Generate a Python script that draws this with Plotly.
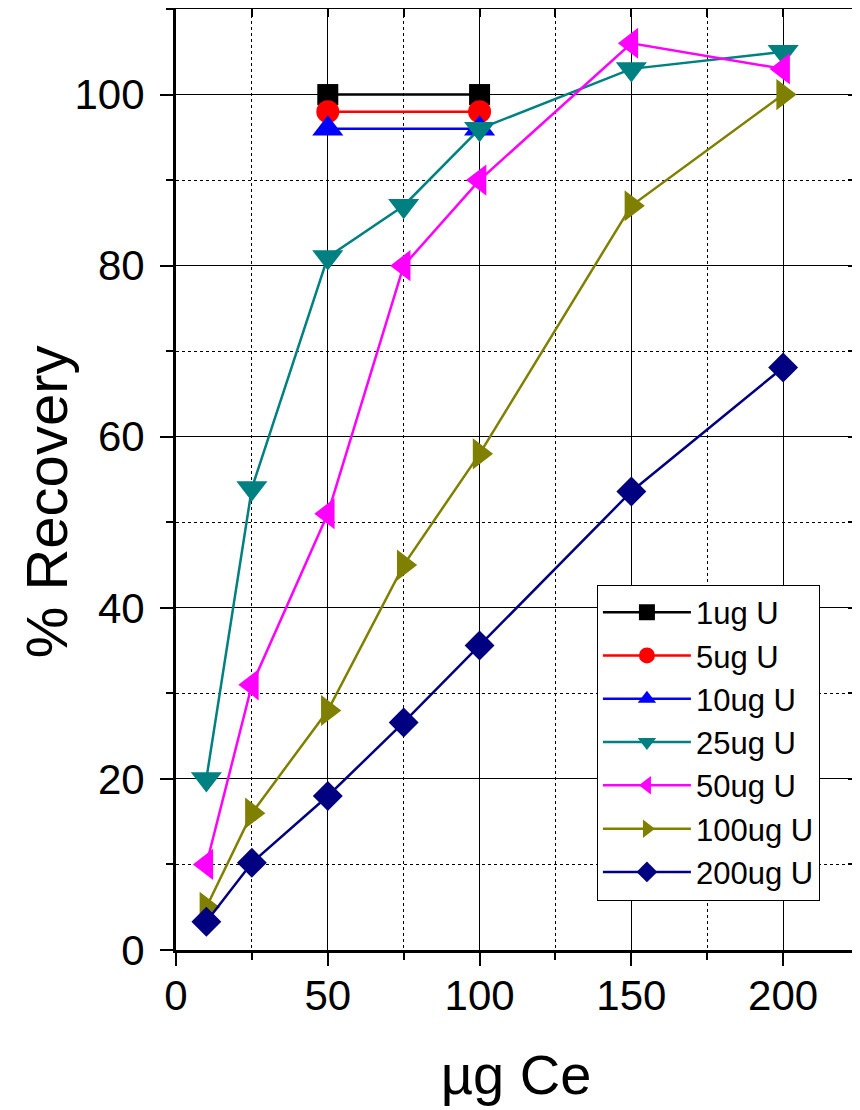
import plotly.graph_objects as go

x_ce_short = [50, 100]
x_ce = [10, 25, 50, 75, 100, 150, 200]

u1 = [100, 100]
u5 = [98, 98]
u10 = [96, 96]
u25 = [20, 54, 81, 87, 96, 103, 105]
u50 = [10, 31, 51, 80, 90, 106, 103]
u100 = [5, 16, 28, 45, 58, 87, 100]
u200 = [3.3, 10.2, 18, 26.6, 35.6, 53.6, 68.1]

series = [
    ("1ug U", x_ce_short, u1, "#000000", "square", 21),
    ("5ug U", x_ce_short, u5, "#FF0000", "circle", 23),
    ("10ug U", x_ce_short, u10, "#0000FF", "triangle-up", 27),
    ("25ug U", x_ce, u25, "#008080", "triangle-down", 27),
    ("50ug U", x_ce, u50, "#FF00FF", "triangle-left", 27),
    ("100ug U", x_ce, u100, "#808000", "triangle-right", 27),
    ("200ug U", x_ce, u200, "#000080", "diamond", 23),
]

x_ticks = [0, 50, 100, 150, 200]
y_ticks = [0, 20, 40, 60, 80, 100]

FONT = "Liberation Sans, Arial, sans-serif"

fig = go.Figure()
for name, xs, ys, color, sym, size in series:
    fig.add_trace(go.Scatter(
        x=xs, y=ys, name=name, mode="lines+markers",
        line=dict(color=color, width=2.5),
        marker=dict(symbol=sym, size=size, color=color, line=dict(width=0)),
    ))

common_axis = dict(
    showline=True, linecolor="black", linewidth=3,
    ticks="outside", ticklen=13, tickwidth=2, tickcolor="black",
    showgrid=True, gridcolor="black", gridwidth=1,
    zeroline=False, automargin=False,
    tickfont=dict(family=FONT, size=42, color="black"),
)

fig.update_layout(
    width=852, height=1102,
    paper_bgcolor="white", plot_bgcolor="white",
    margin=dict(l=168, r=4, t=1, b=160),
    font=dict(family=FONT, color="black"),
    showlegend=True,
    legend=dict(
        x=0.619, y=0.2205, xanchor="left", yanchor="middle",
        bgcolor="white", bordercolor="black", borderwidth=1,
        font=dict(family=FONT, size=31, color="black"),
        tracegroupgap=0, itemwidth=88,
    ),
    xaxis=dict(
        range=[0, 224], tickvals=x_ticks, ticklabelstandoff=-6,
        title=dict(text="µg Ce", font=dict(family=FONT, size=56, color="black"), standoff=37),
        minor=dict(dtick=25, tick0=0, ticks="outside", ticklen=7, tickwidth=2, tickcolor="black",
                   showgrid=True, gridcolor="black", gridwidth=1, griddash="dot"),
        **common_axis,
    ),
    yaxis=dict(
        range=[0, 110], tickvals=y_ticks, ticklabelstandoff=7,
        minor=dict(dtick=10, tick0=0, ticks="outside", ticklen=7, tickwidth=2, tickcolor="black",
                   showgrid=True, gridcolor="black", gridwidth=1, griddash="dot"),
        **common_axis,
    ),
    xaxis2=dict(
        overlaying="x", side="top", range=[0, 224], tickvals=x_ticks, showticklabels=False,
        showline=True, linecolor="black", linewidth=3, automargin=False,
        ticks="inside", ticklen=8, tickwidth=2, tickcolor="black",
        minor=dict(dtick=25, tick0=0, ticks="inside", ticklen=8, tickwidth=2, tickcolor="black"),
        showgrid=False, zeroline=False,
    ),
    yaxis2=dict(
        overlaying="y", side="right", range=[0, 110], tickvals=y_ticks, showticklabels=False,
        showline=True, linecolor="black", linewidth=2, automargin=False,
        ticks="inside", ticklen=8, tickwidth=2, tickcolor="black",
        minor=dict(dtick=10, tick0=0, ticks="inside", ticklen=8, tickwidth=2, tickcolor="black"),
        showgrid=False, zeroline=False,
    ),
    annotations=[dict(
        text="% Recovery", textangle=-90, showarrow=False,
        xref="paper", yref="paper", x=-0.191, y=0.476, xanchor="center", yanchor="middle",
        font=dict(family=FONT, size=58, color="black"),
    )],
)

# invisible trace to bind secondary axes
fig.add_trace(go.Scatter(x=[None], y=[None], xaxis="x2", yaxis="y2", showlegend=False, hoverinfo="skip"))

fig.write_html("out.html")
